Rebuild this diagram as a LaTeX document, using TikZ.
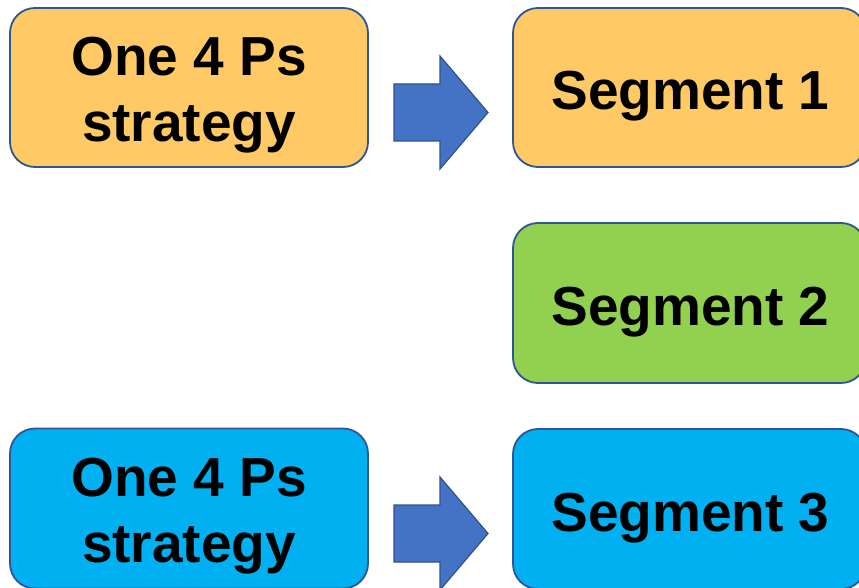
\documentclass[tikz,border=0pt]{standalone}
\usepackage{fontspec}
\setmainfont{Liberation Sans}
\definecolor{orangefill}{HTML}{FFCA66}
\definecolor{greenfill}{HTML}{92D050}
\definecolor{bluefill}{HTML}{00B0F0}
\definecolor{edgeblue}{HTML}{2F5597}
\definecolor{arrowfill}{HTML}{4472C4}
\definecolor{arrowedge}{HTML}{2F528F}
\tikzset{
  box/.style={draw=edgeblue, line width=1.8pt, rounded corners=25pt, inner sep=0pt},
  lbl/.style={inner sep=0pt, align=center, font=\fontsize{55}{66}\selectfont\bfseries, text=black},
  blockarrow/.style={fill=arrowfill, draw=arrowedge, line width=1.2pt, line join=miter}
}
\begin{document}
\begin{tikzpicture}[x=1pt,y=-1pt]
\useasboundingbox (0,0) rectangle (859,588);
\clip (0,0) rectangle (859,588);
\fill[white] (0,0) rectangle (859,588);
% left boxes
\node[box, fill=orangefill, minimum width=358pt, minimum height=159pt] (s1) at (189,87.5) {};
\node[box, fill=bluefill, minimum width=358pt, minimum height=160pt] (s2) at (189,508.5) {};
% segment boxes
\node[box, fill=orangefill, minimum width=353pt, minimum height=159pt] (g1) at (689.5,87.5) {};
\node[box, fill=greenfill, minimum width=353pt, minimum height=160pt] (g2) at (689.5,303) {};
\node[box, fill=bluefill, minimum width=353pt, minimum height=160pt] (g3) at (689.5,509) {};
% labels
\node[lbl] (ts1) at ([yshift=-8pt]s1.center) {One 4 Ps\\strategy};
\node[lbl] (ts2) at ([yshift=-8pt]s2.center) {One 4 Ps\\strategy};
\node[lbl] (tg1) at ([xshift=1pt,yshift=-9pt]g1.center) {Segment 1};
\node[lbl] (tg2) at ([xshift=1pt,yshift=-9pt]g2.center) {Segment 2};
\node[lbl] (tg3) at ([xshift=1pt,yshift=-9pt]g3.center) {Segment 3};
% block arrows
\coordinate (a1) at (394,112.5);
\coordinate (a2) at (394,533.5);
\foreach \a in {a1,a2}{
  \draw[blockarrow] (\a) ++(0,-28.5) -- ++(46,0) -- ++(0,-28) -- ++(48,56.5)
    -- ++(-48,56.5) -- ++(0,-28) -- ++(-46,0) -- cycle;
}
\end{tikzpicture}
\end{document}
